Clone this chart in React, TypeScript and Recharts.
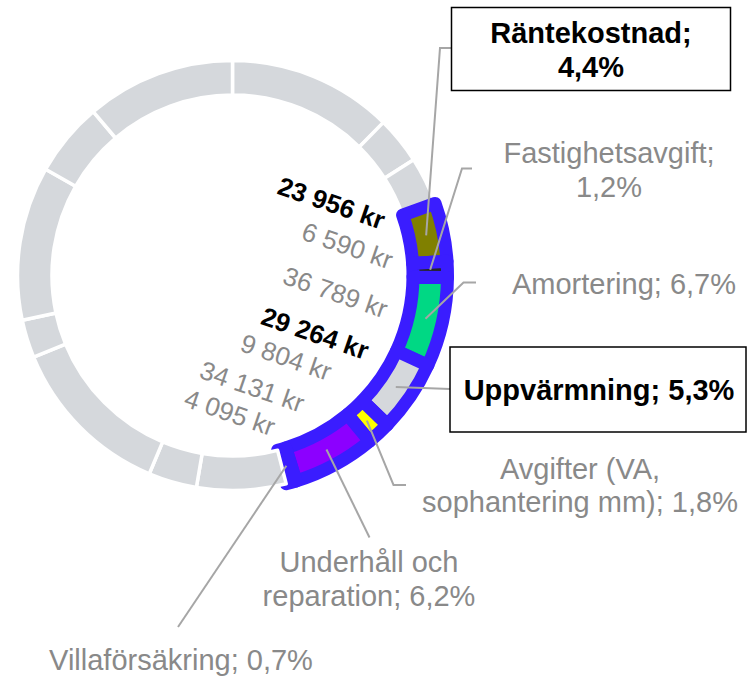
import { PieChart, Pie, Cell } from "recharts";

// Donut segments in clockwise order from 12 o'clock (kr per year)
const categories = [
  "Övrigt 1",
  "Övrigt 2",
  "Övrigt 3",
  "Räntekostnad",
  "Fastighetsavgift",
  "Amortering",
  "Uppvärmning",
  "Avgifter (VA, sophantering mm)",
  "Underhåll och reparation",
  "Villaförsäkring",
  "Övrigt 4",
  "Övrigt 5",
  "Övrigt 6",
  "Övrigt 7",
  "Övrigt 8",
  "Övrigt 9",
  "Övrigt 10",
];
const amounts = [
  67800, 19500, 19800, 23956, 6590, 36789, 29264, 9804, 34131, 4095, 36700, 19900, 68300, 15700, 63300,
  30400, 61400,
];

const housingCosts = [
  "Räntekostnad",
  "Fastighetsavgift",
  "Amortering",
  "Uppvärmning",
  "Avgifter (VA, sophantering mm)",
  "Underhåll och reparation",
  "Villaförsäkring",
];
const emphasized = ["Räntekostnad", "Uppvärmning"];

const data = categories.map((name, i) => ({ name, value: amounts[i] }));

const GRAY = "#D5D8DC";
const BLUE = "#3A1DFF";
const LABEL_GRAY = "#898989";
const LINE_GRAY = "#A6A6A6";
const FONT = "'Liberation Sans', Arial, sans-serif";

const sliceColors: Record<string, string> = {
  Räntekostnad: "#808000",
  Fastighetsavgift: "#262626",
  Amortering: "#00D884",
  Uppvärmning: GRAY,
  "Avgifter (VA, sophantering mm)": "#FFFF00",
  "Underhåll och reparation": "#8C00FF",
  Villaförsäkring: "#8C00FF",
};

// hand-placed callouts (page px); inner = [angle nudge in deg (cw), radius] for the kr text
type Callout = {
  x: number;
  baselines: number[];
  breakAfter?: string;
  path: [number, number][];
  box?: [number, number, number, number];
  inner: [number, number];
};
const callouts: Record<string, Callout> = {
  Räntekostnad: { x: 591, baselines: [43, 77], breakAfter: ";", path: [[440, 48], [451.5, 48]], box: [451.5, 7.5, 279, 83], inner: [-8, 161] },
  Fastighetsavgift: { x: 609, baselines: [163, 197], breakAfter: ";", path: [[462, 168.5], [472, 168.5]], inner: [-3.5, 160] },
  Amortering: { x: 624, baselines: [294], path: [[463.5, 282.5], [476, 282.5]], inner: [0, 158] },
  Uppvärmning: { x: 599, baselines: [400], path: [[450, 389]], box: [450, 347, 296, 85], inner: [-5, 155] },
  "Avgifter (VA, sophantering mm)": { x: 580, baselines: [479, 512], breakAfter: "(VA,", path: [[393.5, 485], [406, 485]], inner: [-2.5, 138] },
  "Underhåll och reparation": { x: 369, baselines: [572, 606], breakAfter: "och", path: [[369.5, 537.5]], inner: [-0.5, 147] },
  Villaförsäkring: { x: 181, baselines: [670], path: [[178, 627]], inner: [0.5, 158] },
};

const RAD = Math.PI / 180;
const polar = (cx: number, cy: number, r: number, a: number) => ({
  x: cx + r * Math.cos(-a * RAD),
  y: cy + r * Math.sin(-a * RAD),
});

const fmtKr = (v: number) => String(v).replace(/\B(?=(\d{3})+(?!\d))/g, " ") + " kr";
const fmtPct = (p: number) => (p * 100).toFixed(1).replace(".", ",") + "%";

const renderLabel = (props: any) => {
  const { cx, cy, midAngle, innerRadius, outerRadius, percent, index } = props;
  const name: string = props.payload?.name ?? props.name;
  const value: number = props.payload?.value ?? props.value;
  const c = callouts[name];
  if (!c) return <g key={`l-${index}`} />;
  const bold = emphasized.includes(name);

  const start = polar(cx, cy, (innerRadius + outerRadius) / 2, midAngle);
  const inner = polar(cx, cy, c.inner[1], midAngle - c.inner[0]);

  const full = `${name}; ${fmtPct(percent)}`;
  let lines = [full];
  if (c.breakAfter) {
    const idx = full.indexOf(c.breakAfter) + c.breakAfter.length;
    lines = [full.slice(0, idx), full.slice(idx).trim()];
  }
  const pts = [[start.x, start.y], ...c.path].map((p) => p.join(",")).join(" ");

  return (
    <g key={`l-${index}`}>
      <text
        x={inner.x}
        y={inner.y}
        transform={`rotate(19 ${inner.x} ${inner.y})`}
        textAnchor="end"
        dominantBaseline="central"
        fontFamily={FONT}
        fontSize={26}
        fontWeight={bold ? 700 : 400}
        fill={bold ? "#000" : LABEL_GRAY}
      >
        {fmtKr(value)}
      </text>
      <polyline points={pts} fill="none" stroke={LINE_GRAY} strokeWidth={2} />
      {c.box && (
        <rect x={c.box[0]} y={c.box[1]} width={c.box[2]} height={c.box[3]} fill="#fff" stroke="#000" strokeWidth={1.5} />
      )}
      {lines.map((ln, i) => (
        <text
          key={i}
          x={c.x}
          y={c.baselines[i]}
          textAnchor="middle"
          fontFamily={FONT}
          fontSize={29}
          fontWeight={bold ? 700 : 400}
          fill={bold ? "#000" : LABEL_GRAY}
        >
          {ln}
        </text>
      ))}
    </g>
  );
};

export default function App() {
  return (
    <div style={{ position: "absolute", left: 0, top: 0, width: 747, height: 678, background: "#fff" }}>
      <PieChart width={747} height={678} margin={{ top: 0, right: 0, bottom: 0, left: 0 }}>
        <Pie
          data={data}
          dataKey="value"
          nameKey="name"
          cx={232.5}
          cy={275.5}
          innerRadius={180.5}
          outerRadius={215}
          startAngle={90}
          endAngle={-270}
          label={renderLabel}
          labelLine={false}
          isAnimationActive={false}
        >
          {data.map((d) => {
            const hi = housingCosts.includes(d.name);
            return (
              <Cell
                key={d.name}
                fill={hi ? sliceColors[d.name] : GRAY}
                stroke={hi ? BLUE : "#fff"}
                strokeWidth={hi ? 13 : 3.5}
                strokeLinejoin="round"
              />
            );
          })}
        </Pie>
      </PieChart>
    </div>
  );
}
